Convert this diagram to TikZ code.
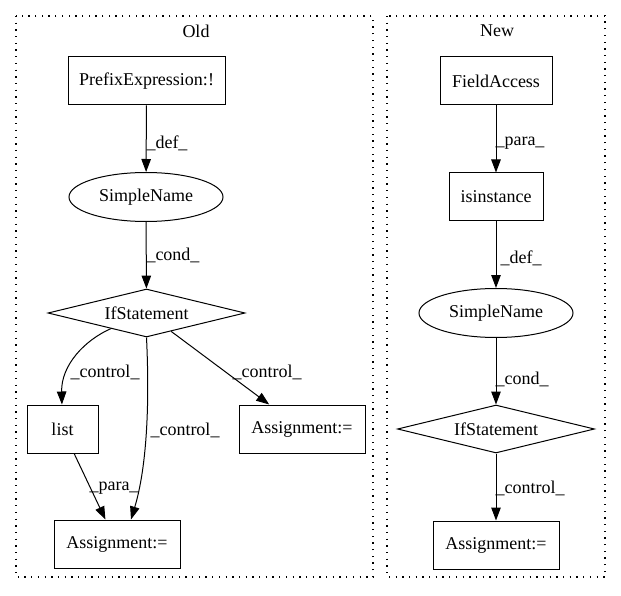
\documentclass[tikz,border=0pt]{standalone}
\usepackage{fontspec}
\setmainfont{Liberation Serif}
\usetikzlibrary{shapes.geometric,arrows.meta,calc}
\begin{document}
\begin{tikzpicture}[x=1pt,y=-1pt,
  every node/.style={font=\fontsize{18}{20}\selectfont},
  box/.style={draw,line width=1pt,rectangle,minimum height=48pt,inner sep=0pt},
  ell/.style={draw,line width=1pt,ellipse,minimum width=154pt,minimum height=49pt,inner sep=0pt},
  dia/.style={draw,line width=1pt,diamond,aspect=4.1,minimum width=197pt,minimum height=48pt,inner sep=0pt},
  edge/.style={line width=1pt,-{Triangle[length=13pt,width=9.5pt]}},
  lbl/.style={inner sep=0pt},
  cluster/.style={draw,line width=1.2pt,dash pattern=on 1.3pt off 5.4pt}]
\useasboundingbox (0,0) rectangle (621,596);
% clusters
\draw[cluster] (16,16) rectangle (373,577);
\draw[cluster] (387,16) rectangle (605,577);
\node[lbl] (oldt) at (196,31) {Old};
\node[lbl] (newt) at (497,31) {New};
% Old nodes
\node[box,minimum width=157pt] (pre) at (146.5,81) {PrefixExpression:!};
\node[ell] (sn1) at (146,197) {SimpleName};
\node[dia] (if1) at (146.5,313) {IfStatement};
\node[box,minimum width=71pt] (list) at (62.5,429) {list};
\node[box,minimum width=126pt] (asg2) at (302,429) {Assignment:=};
\node[box,minimum width=126pt] (asg1) at (117,544) {Assignment:=};
% Old edges
\draw[edge] (pre) -- (sn1);
\draw[edge] (sn1) -- (if1);
\draw[edge] (if1) .. controls (85,340) and (61,365) .. (list);
\draw[edge] (if1) -- (asg2);
\draw[edge] (if1.south) .. controls (150,410) and (146,470) .. ($(asg1.north)+(14,0)$);
\draw[edge] (list) -- (asg1);
\node[lbl] (l1) at (167,143) {\_def\_};
\node[lbl] (l2) at (173,255) {\_cond\_};
\node[lbl] (l3) at (105,372) {\_control\_};
\node[lbl] (l4) at (185,430) {\_control\_};
\node[lbl] (l5) at (267,372) {\_control\_};
\node[lbl] (l6) at (114,488) {\_para\_};
% New nodes
\node[box,minimum width=112pt] (fa) at (496,81) {FieldAccess};
\node[box,minimum width=94pt] (isi) at (496,197) {isinstance};
\node[ell] (sn2) at (496,313) {SimpleName};
\node[dia] (if2) at (496,429) {IfStatement};
\node[box,minimum width=126pt] (asg3) at (496,545) {Assignment:=};
% New edges
\draw[edge] (fa) -- (isi);
\draw[edge] (isi) -- (sn2);
\draw[edge] (sn2) -- (if2);
\draw[edge] (if2) -- (asg3);
\node[lbl] (m1) at (520,143) {\_para\_};
\node[lbl] (m2) at (521,258) {\_def\_};
\node[lbl] (m3) at (522,379) {\_cond\_};
\node[lbl] (m4) at (530,488) {\_control\_};
\end{tikzpicture}
\end{document}
